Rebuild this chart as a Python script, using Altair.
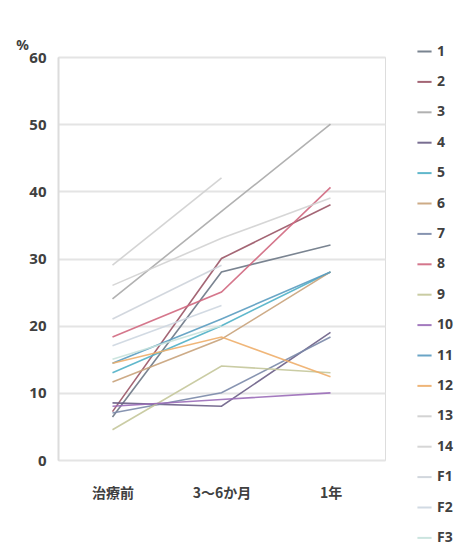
import altair as alt
import pandas as pd

categories = ["治療前", "3～6か月", "1年"]
series_names = ["1", "2", "3", "4", "5", "6", "7", "8", "9", "10", "11", "12", "13", "14", "F1", "F2", "F3"]
s1 = [6.4, 28, 32]
s2 = [7.2, 30, 38]
s3 = [24, 37, 50]
s4 = [8.5, 8, 19]
s5 = [13, 20, 28]
s6 = [11.6, 18, 28]
s7 = [7, 10, 18.3]
s8 = [18.3, 25, 40.6]
s9 = [4.5, 14, 13]
s10 = [8, 9, 10]
s11 = [14.4, 21, 28]
s12 = [14.4, 18.3, 12.4]
s13 = [29, 42, None]
s14 = [26, 33, 39]
sF1 = [21, 29, None]
sF2 = [17, 23, None]
sF3 = [15, 20, None]
series_values = [s1, s2, s3, s4, s5, s6, s7, s8, s9, s10, s11, s12, s13, s14, sF1, sF2, sF3]
colors = ["#6b7785", "#9a5566", "#a9a9a9", "#6a5e86", "#4fb0c6", "#c8a27a", "#7a88a8", "#d06880",
          "#c4c79a", "#9a6cb8", "#5a9cc0", "#eeae6a", "#cfcfcf", "#d2d2d2", "#cdd3da", "#cdd6e0", "#c6e2dc"]

rows = []
for name, vals in zip(series_names, series_values):
    for cat, v in zip(categories, vals):
        if v is not None:
            rows.append({"series": name, "period": cat, "value": v})
df = pd.DataFrame(rows)

chart = alt.Chart(df).mark_line(strokeWidth=1.6, opacity=0.9).encode(
    x=alt.X("period:N", sort=categories, scale=alt.Scale(paddingInner=0, paddingOuter=0.5),
            axis=alt.Axis(title=None, labelAngle=0, labelFontSize=14, labelColor="#404040",
                          labelFont="Noto Sans CJK JP", labelFontWeight="bold", labelPadding=26,
                          ticks=False, domain=False, grid=False)),
    y=alt.Y("value:Q", scale=alt.Scale(domain=[0, 60], nice=False),
            axis=alt.Axis(title="%", titleAngle=0, titleX=-36, titleY=-12, titleAlign="center",
                          titleBaseline="middle", titleFontSize=14, titleFontWeight="bold",
                          titleColor="#404040", titleFont="Noto Sans",
                          values=[0, 10, 20, 30, 40, 50, 60], labelFontSize=15, labelColor="#404040",
                          labelFont="Noto Sans", labelFontWeight="bold", labelPadding=12,
                          ticks=False, domainColor="#dcdcdc", domainWidth=2,
                          gridColor="#e4e4e4", gridWidth=2)),
    color=alt.Color("series:N", sort=series_names,
                    scale=alt.Scale(domain=series_names, range=colors),
                    legend=alt.Legend(title=None, orient="none", legendX=358, legendY=-14,
                                      symbolType="stroke", symbolSize=200, symbolStrokeWidth=2,
                                      labelFontSize=14, labelColor="#404040", labelFont="Noto Sans",
                                      labelFontWeight="bold", rowPadding=14.4, labelOffset=4)),
    detail="series:N",
).properties(
    width=327, height=403,
    autosize=alt.AutoSizeParams(type="none"),
    padding={"left": 50, "top": 49, "right": 72, "bottom": 85},
).configure_view(stroke=None).configure(background="white")

chart.save("out.html", embed_options={"renderer": "svg", "actions": False})
